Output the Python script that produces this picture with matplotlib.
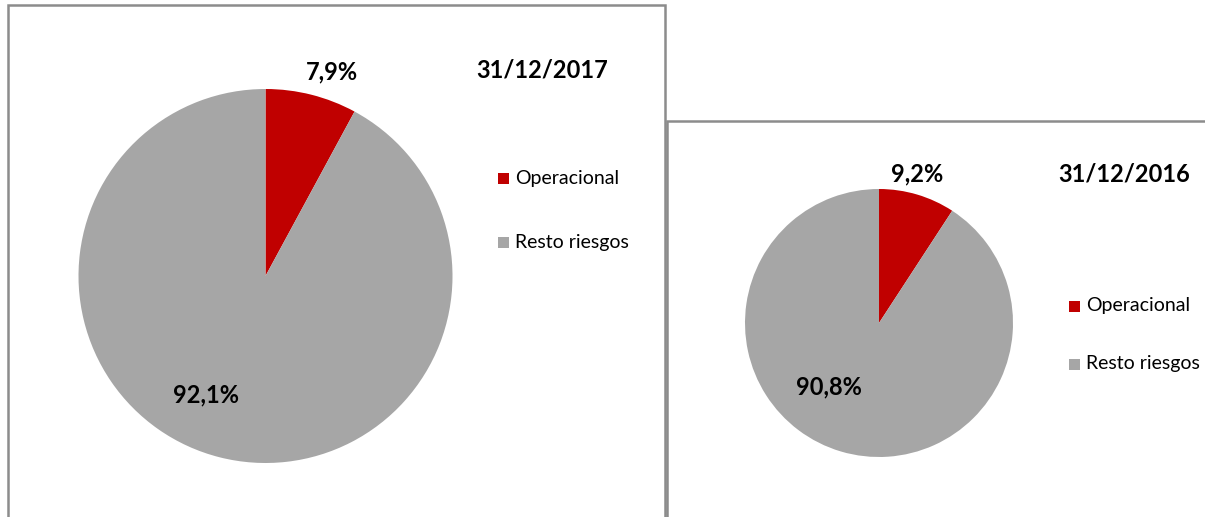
import matplotlib
matplotlib.use("Agg")
import matplotlib.pyplot as plt
from matplotlib.patches import Rectangle
import numpy as np

plt.rcParams['font.family'] = ['Lato', 'DejaVu Sans']

categories = ["Operacional", "Resto riesgos"]
values_2017 = [7.9, 92.1]
values_2016 = [9.2, 90.8]
titles = ["31/12/2017", "31/12/2016"]
colors = ["#C00000", "#A6A6A6"]

W, H = 1205, 517
fig = plt.figure(figsize=(W / 100, H / 100), dpi=100)

def fx(px):
    return px / W

def fy(py):
    return 1 - py / H

# panel frames (pixel coords: left, top, right, bottom)
frames = [(8, 5, 665, 530), (667, 121, 1215, 530)]
for (l, t, r, b) in frames:
    fig.patches.append(Rectangle((fx(l), fy(b)), fx(r - l), (b - t) / H,
                                 transform=fig.transFigure, fill=False,
                                 edgecolor="#8C8C8C", linewidth=1.8, zorder=0))

def fmt(v):
    return f"{v:.1f}".replace(".", ",") + "%"

panels = [
    dict(vals=values_2017, cx=265.5, cy=276, r=187, title=titles[0], tpos=(542, 70),
         lab=[(1.15, 72.0), (0.71, -116.6)], leg=(503.5, 178.5, 242.5, 515)),
    dict(vals=values_2016, cx=879, cy=323, r=134, title=titles[1], tpos=(1124, 174),
         lab=[(1.15, 75.5), (0.61, -128.0)], leg=(1074, 306, 364, 1086)),
]

for p in panels:
    cx, cy, r = p["cx"], p["cy"], p["r"]
    ax = fig.add_axes([fx(cx - r), fy(cy + r), 2 * r / W, 2 * r / H])
    ax.pie(p["vals"], colors=colors, startangle=90, counterclock=False,
           radius=1, wedgeprops=dict(linewidth=0))
    ax.set_xlim(-1, 1)
    ax.set_ylim(-1, 1)
    ax.axis("off")
    for v, (d, ang) in zip(p["vals"], p["lab"]):
        a = np.deg2rad(ang)
        ax.text(d * np.cos(a), d * np.sin(a), fmt(v), ha="center", va="center",
                fontsize=17, fontweight="bold", color="#000000", clip_on=False)
    fig.text(fx(p["tpos"][0]), fy(p["tpos"][1]), p["title"], ha="center", va="center",
             fontsize=17, fontweight="bold")
    lx, y1, y2, tx = p["leg"]
    for cat, col, yy in zip(categories, colors, (y1, y2)):
        fig.patches.append(Rectangle((fx(lx - 5.5), fy(yy + 5.5)), 11 / W, 11 / H,
                                     transform=fig.transFigure, facecolor=col,
                                     edgecolor="none"))
        fig.text(fx(tx), fy(yy), cat, ha="left", va="center", fontsize=14)

fig.savefig("out.png", dpi=100)
